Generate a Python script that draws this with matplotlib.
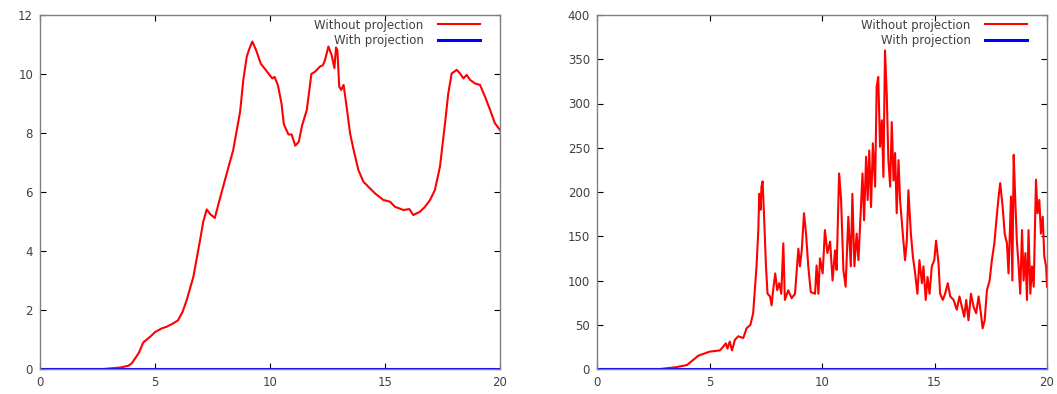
import numpy as np
import matplotlib
matplotlib.use("Agg")
import matplotlib.pyplot as plt

# left panel: smooth curve
left_x = [0, 2.75, 3.2, 3.5, 3.84, 4.0, 4.3, 4.49, 4.8, 5.0, 5.3, 5.5, 5.8, 6.0, 6.2,
          6.38, 6.67, 6.96, 7.1, 7.25, 7.4, 7.6, 7.9, 8.12, 8.4, 8.7, 8.84, 8.99,
          9.1, 9.23, 9.4, 9.6, 9.8, 10.0, 10.1, 10.2, 10.35, 10.5, 10.6, 10.8,
          10.94, 11.1, 11.25, 11.4, 11.6, 11.8, 11.96, 12.17, 12.3, 12.39, 12.54,
          12.68, 12.8, 12.87, 12.93, 13.01, 13.1, 13.2, 13.33, 13.48, 13.62, 13.84,
          14.06, 14.35, 14.57, 14.93, 15.22, 15.43, 15.8, 16.06, 16.23, 16.52,
          16.74, 16.96, 17.17, 17.39, 17.61, 17.75, 17.9, 18.12, 18.26, 18.41,
          18.55, 18.7, 18.91, 19.13, 19.35, 19.57, 19.78, 20.0]
left_y = [0, 0, 0.03, 0.05, 0.11, 0.2, 0.55, 0.9, 1.1, 1.25, 1.38, 1.43, 1.55, 1.65, 1.94,
          2.34, 3.13, 4.37, 5.0, 5.41, 5.25, 5.12, 6.0, 6.63, 7.42, 8.72, 9.8, 10.59,
          10.85, 11.1, 10.8, 10.35, 10.15, 9.95, 9.85, 9.9, 9.6, 9.0, 8.3, 7.95,
          7.95, 7.57, 7.7, 8.27, 8.78, 10.0, 10.08, 10.25, 10.3, 10.47, 10.93,
          10.64, 10.2, 10.9, 10.8, 9.57, 9.46, 9.63, 8.9, 7.99, 7.48, 6.75,
          6.35, 6.12, 5.95, 5.73, 5.67, 5.5, 5.39, 5.42, 5.22, 5.33,
          5.5, 5.73, 6.07, 6.86, 8.33, 9.34, 10.02, 10.14, 10.02, 9.85,
          9.97, 9.8, 9.68, 9.63, 9.23, 8.78, 8.33, 8.1]

# right panel: noisy curve
right_x = [0, 2.8, 3.5, 4.0, 4.5, 5.0, 5.46, 5.6, 5.73, 5.8, 5.9, 6.0, 6.13, 6.28,
           6.5, 6.65, 6.82, 6.94, 7.09, 7.17, 7.21, 7.27, 7.31, 7.36, 7.42, 7.51,
           7.58, 7.69, 7.76, 7.83, 7.92, 8.01, 8.1, 8.19, 8.28, 8.35, 8.5, 8.65,
           8.8, 8.95, 9.02, 9.1, 9.2, 9.29, 9.39, 9.5, 9.69, 9.76, 9.84, 9.91,
           10.03, 10.13, 10.24, 10.36, 10.47, 10.58, 10.65, 10.76, 10.85, 10.95,
           11.05, 11.17, 11.28, 11.35, 11.44, 11.54, 11.62, 11.72, 11.8, 11.87,
           11.96, 12.03, 12.1, 12.18, 12.26, 12.36, 12.43, 12.5, 12.58, 12.66,
           12.73, 12.8, 12.88, 12.95, 13.03, 13.1, 13.18, 13.25, 13.32, 13.4,
           13.47, 13.59, 13.69, 13.77, 13.84, 13.95, 14.04, 14.14, 14.24, 14.33,
           14.44, 14.51, 14.61, 14.69, 14.78, 14.88, 14.99, 15.07, 15.18, 15.25,
           15.37, 15.47, 15.59, 15.7, 15.85, 15.99, 16.11, 16.22, 16.32, 16.41,
           16.51, 16.62, 16.74, 16.85, 16.96, 17.06, 17.14, 17.23, 17.33, 17.45,
           17.55, 17.66, 17.75, 17.85, 17.92, 18.03, 18.12, 18.22, 18.29, 18.4,
           18.46, 18.52, 18.59, 18.66, 18.74, 18.81, 18.89, 18.96, 19.04, 19.11,
           19.18, 19.26, 19.33, 19.41, 19.51, 19.58, 19.66, 19.73, 19.81, 19.88,
           19.96, 20.0]
right_y = [0, 0, 2, 4.5, 15, 19.6, 21, 25, 29, 23, 31, 21, 33, 37,
           35, 46, 50, 63, 116, 157, 198, 180, 206, 212, 176, 116,
           85, 82, 72, 89, 108, 89, 97, 85, 142, 78, 89, 80,
           85, 136, 116, 134, 176, 153, 116, 87, 85, 117, 85, 125,
           108, 157, 131, 144, 100, 134, 112, 221, 191, 112,
           93, 172, 116, 198, 116, 153, 123, 176, 221, 168,
           240, 191, 247, 183, 255, 206, 319, 330, 251, 281,
           217, 360, 308, 236, 206, 279, 213, 244, 176, 236,
           191, 153, 123, 145, 202, 153, 127, 108, 85, 123,
           97, 116, 78, 104, 85, 116, 123, 145, 119, 85,
           78, 85, 97, 82, 78, 67, 82, 70, 59, 78,
           55, 85, 70, 63, 82, 63, 46, 55, 89, 100,
           123, 142, 168, 195, 210, 183, 153, 142, 108, 195,
           100, 242, 191, 145, 116, 85, 157, 100, 131, 78,
           157, 85, 116, 93, 214, 176, 191, 153, 172, 127,
           116, 93]

labels = ["Without projection", "With projection"]
x_ticks = [0, 5, 10, 15, 20]

text_col = "#404040"
frame_col = "#808080"

fig = plt.figure(figsize=(10.57, 3.94), dpi=100)
ax1 = fig.add_axes([40 / 1057, 25 / 394, 460 / 1057, 354 / 394])
ax2 = fig.add_axes([597 / 1057, 25 / 394, 450 / 1057, 354 / 394])

panels = [
    (ax1, left_x, left_y, 12, [0, 2, 4, 6, 8, 10, 12]),
    (ax2, right_x, right_y, 400, list(range(0, 401, 50))),
]

for ax, xs, ys, ymax, yt in panels:
    ax.plot(xs, ys, color="red", lw=1.5, label=labels[0])
    ax.plot([0, 20], [0, 0], color="blue", lw=2.2, label=labels[1])
    ax.set_xlim(0, 20)
    ax.set_ylim(0, ymax)
    ax.set_xticks(x_ticks)
    ax.set_yticks(yt)
    ax.tick_params(direction="in", top=True, right=True, length=4, width=0.8,
                   color="black", labelcolor=text_col, labelsize=8.5, pad=5)
    for s in ax.spines.values():
        s.set_color(frame_col)
        s.set_linewidth(1)
    leg = ax.legend(loc="upper right", bbox_to_anchor=(0.98, 1.02), frameon=False,
                    markerfirst=False, fontsize=8.5, handlelength=3.6,
                    labelspacing=0.2, handletextpad=1.2)
    for t in leg.get_texts():
        t.set_color(text_col)
        t.set_ha("right")

fig.savefig("out.png", dpi=100)
